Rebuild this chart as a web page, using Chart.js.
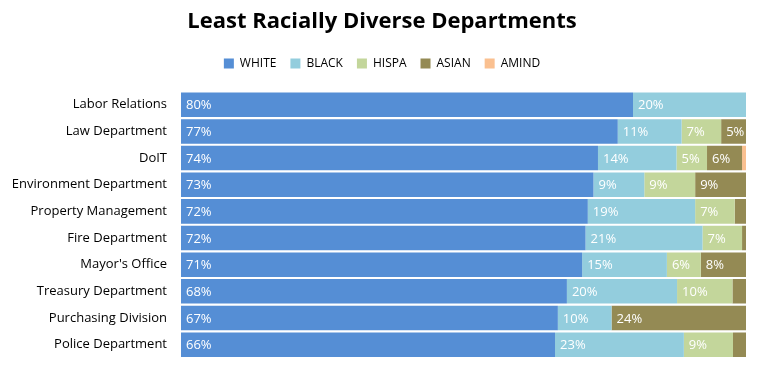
<!DOCTYPE html>
<html>
<head>
<meta charset="utf-8">
<script src="https://cdn.jsdelivr.net/npm/chart.js@4"></script>
<style>
  html, body { margin: 0; padding: 0; background: #fff; }
  #wrap { width: 782px; height: 376px; }
</style>
</head>
<body>
<div id="wrap"><canvas id="chart"></canvas></div>
<script>
// Departments, top to bottom
const departments = [
    "Labor Relations", "Law Department", "DoIT", "Environment Department",
    "Property Management", "Fire Department", "Mayor's Office",
    "Treasury Department", "Purchasing Division", "Police Department"
];

// Share of each group, percent
const white = [80, 77.3, 73.8, 73, 72, 71.6, 71, 68.3, 66.7, 66.2];
const black = [20, 11.3, 13.9, 9, 19, 20.7, 15, 19.5, 9.5, 22.8];
const hispa = [0, 7, 5.4, 9, 7, 7, 6, 9.8, 0, 8.7];
const asian = [0, 4.6, 6.2, 9, 2, 0.7, 8, 2.4, 23.8, 2.3];
const amind = [0, 0, 0.7, 0, 0, 0, 0, 0, 0, 0];

const groups = ["WHITE", "BLACK", "HISPA", "ASIAN", "AMIND"];
const colors = ['#558ED5', '#93CDDD', '#C3D69B', '#948A54', '#FAC090'];
const series = [white, black, hispa, asian, amind];

// Draw the percent text inside each segment
const segmentLabels = {
    id: 'segmentLabels',
    afterDatasetsDraw(chart) {
        const ctx = chart.ctx;
        ctx.save();
        ctx.font = '13px "Open Sans"';
        ctx.fillStyle = '#ffffff';
        ctx.textBaseline = 'middle';
        ctx.textAlign = 'left';
        chart.data.datasets.forEach((ds, i) => {
            const meta = chart.getDatasetMeta(i);
            meta.data.forEach((bar, j) => {
                const v = ds.data[j];
                if (v < 4.5) return;
                const left = Math.min(bar.base, bar.x);
                ctx.fillText(Math.round(v) + '%', left + 5, bar.y + 1);
            });
        });
        ctx.restore();
    }
};

// Extra room below the legend
const legendGap = {
    id: 'legendGap',
    beforeInit(chart) {
        const fit = chart.legend.fit;
        chart.legend.fit = function () {
            fit.bind(chart.legend)();
            this.height += 12;
        };
    }
};

new Chart(document.getElementById('chart').getContext('2d'), {
    type: 'bar',
    data: {
        labels: departments,
        datasets: groups.map((g, i) => ({
            label: g,
            data: series[i],
            backgroundColor: colors[i],
            borderWidth: 0,
            barPercentage: 0.92,
            categoryPercentage: 1
        }))
    },
    options: {
        indexAxis: 'y',
        responsive: true,
        maintainAspectRatio: false,
        animation: false,
        layout: { padding: { left: 0, right: 18, top: 4, bottom: 18 } },
        plugins: {
            title: {
                display: true,
                text: 'Least Racially Diverse Departments',
                color: '#000',
                font: { family: 'Open Sans', size: 22, weight: 'bold' },
                padding: { top: 5, bottom: 8 }
            },
            legend: {
                position: 'top',
                labels: {
                    boxWidth: 10,
                    boxHeight: 10,
                    color: '#000',
                    font: { family: 'Open Sans', size: 12 },
                    padding: 14
                }
            },
            tooltip: { enabled: false }
        },
        scales: {
            x: {
                stacked: true,
                display: false,
                min: 0,
                max: 100
            },
            y: {
                stacked: true,
                grid: { display: false, drawTicks: false },
                border: { display: false },
                ticks: {
                    color: '#000',
                    font: { family: 'Open Sans', size: 13 },
                    padding: 14
                },
                afterFit(scale) {
                    scale.width = 181;
                    scale.paddingTop = 0;
                    scale.paddingBottom = 0;
                }
            },
            // empty axis on the right, only to hold the right margin
            yRight: {
                type: 'category',
                labels: departments,
                position: 'right',
                grid: { display: false, drawTicks: false },
                border: { display: false },
                ticks: { display: false },
                afterFit(scale) {
                    scale.width = 18;
                    scale.paddingTop = 0;
                    scale.paddingBottom = 0;
                }
            }
        }
    },
    plugins: [segmentLabels, legendGap]
});
</script>
</body>
</html>
